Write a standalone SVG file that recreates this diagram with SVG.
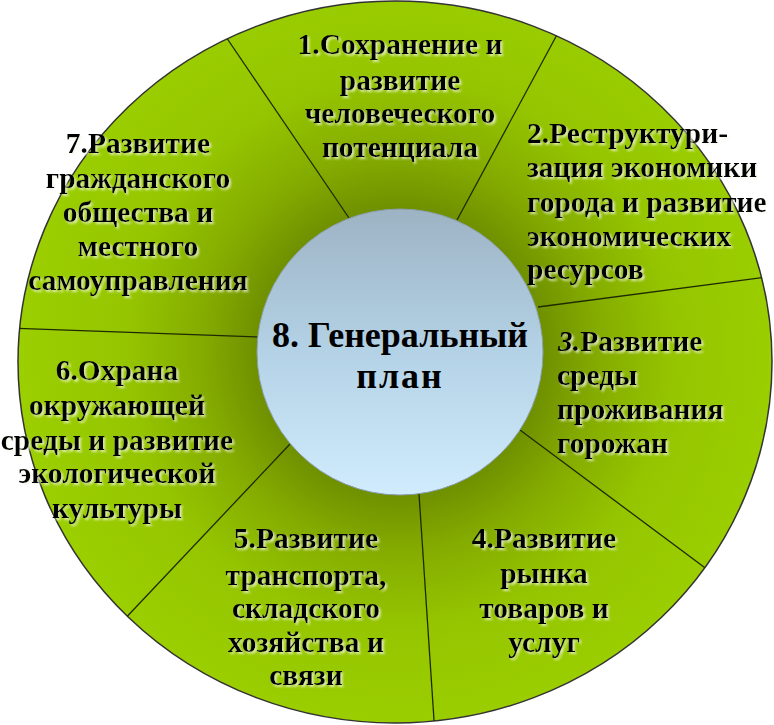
<svg xmlns="http://www.w3.org/2000/svg" width="774" height="725" viewBox="0 0 774 725">
<defs>
<radialGradient id="gGreen" gradientUnits="userSpaceOnUse" cx="400" cy="352" r="380">
<stop offset="0.37" stop-color="#6e8f00"/>
<stop offset="0.52" stop-color="#84ab00"/>
<stop offset="0.72" stop-color="#95c500"/>
<stop offset="1" stop-color="#9bcf00"/>
</radialGradient>
<linearGradient id="gBlue" x1="0" y1="0" x2="0" y2="1">
<stop offset="0" stop-color="#9db3c4"/>
<stop offset="0.5" stop-color="#b4d2e6"/>
<stop offset="1" stop-color="#d0ecfd"/>
</linearGradient>
<clipPath id="ring"><ellipse cx="395" cy="362" rx="377" ry="361"/></clipPath>
<filter id="sh" x="-10%" y="-30%" width="120%" height="160%">
<feDropShadow dx="2" dy="2" stdDeviation="0.8" flood-color="#f4f8e8" flood-opacity="0.75"/>
</filter>
</defs>
<style>
.t{font-family:"Liberation Serif","Times New Roman",serif;font-weight:bold;font-size:29.5px;fill:#000;filter:url(#sh)}
.c{text-anchor:middle}
.s{text-anchor:start}
.div{stroke:#1f2a00;stroke-width:1.3;fill:none}
.big{font-family:"Liberation Serif","Times New Roman",serif;font-weight:bold;font-size:36px;fill:#000;text-anchor:middle}
</style>
<g id="ring-bg">
<ellipse cx="395" cy="362" rx="377" ry="361" fill="url(#gGreen)" stroke="#333" stroke-width="1.5"/>
</g>
<g id="connectors" clip-path="url(#ring)">
<line class="div" x1="349" y1="218" x2="222" y2="31"/>
<line class="div" x1="457" y1="220" x2="559" y2="31"/>
<line class="div" x1="538" y1="307" x2="775" y2="276"/>
<line class="div" x1="520" y1="430" x2="712" y2="573"/>
<line class="div" x1="419" y1="494" x2="435" y2="735"/>
<line class="div" x1="290" y1="444" x2="120" y2="624"/>
<line class="div" x1="258" y1="337" x2="5" y2="328"/>
</g>
<g id="n1">
<text class="t c" x="400" y="54">1.Сохранение и</text>
<text class="t c" x="400" y="90">развитие</text>
<text class="t c" x="400" y="123">человеческого</text>
<text class="t c" x="400" y="157">потенциала</text>
</g>
<g id="n2">
<text class="t s" x="527" y="143">2.Реструктури-</text>
<text class="t s" x="527" y="177">зация экономики</text>
<text class="t s" x="527" y="212">города и развитие</text>
<text class="t s" x="527" y="246">экономических</text>
<text class="t s" x="527" y="279">ресурсов</text>
</g>
<g id="n3">
<text class="t s" x="558" y="351"><tspan font-style="italic">3.</tspan>Развитие</text>
<text class="t s" x="557" y="385">среды</text>
<text class="t s" x="557" y="419">проживания</text>
<text class="t s" x="557" y="453">горожан</text>
</g>
<g id="n4">
<text class="t c" x="544" y="548">4.Развитие</text>
<text class="t c" x="544" y="583">рынка</text>
<text class="t c" x="544" y="618">товаров и</text>
<text class="t c" x="544" y="652">услуг</text>
</g>
<g id="n5">
<text class="t c" x="306" y="548">5.Развитие</text>
<text class="t c" x="306" y="585">транспорта,</text>
<text class="t c" x="306" y="618">складского</text>
<text class="t c" x="306" y="652">хозяйства и</text>
<text class="t c" x="306" y="685">связи</text>
</g>
<g id="n6">
<text class="t c" x="117" y="380">6.Охрана</text>
<text class="t c" x="117" y="415">окружающей</text>
<text class="t c" x="117" y="450">среды и развитие</text>
<text class="t c" x="117" y="483">экологической</text>
<text class="t c" x="117" y="518">культуры</text>
</g>
<g id="n7">
<text class="t c" x="138" y="153">7.Развитие</text>
<text class="t c" x="138" y="188">гражданского</text>
<text class="t c" x="138" y="222">общества и</text>
<text class="t c" x="138" y="256">местного</text>
<text class="t c" x="138" y="290">самоуправления</text>
</g>
<g id="n8">
<circle cx="400" cy="352" r="143" fill="url(#gBlue)" stroke="#8d9eae" stroke-width="1"/>
<text class="big" x="400" y="347">8. Генеральный</text>
<text class="big" x="400" y="388" letter-spacing="2">план</text>
</g>
</svg>
